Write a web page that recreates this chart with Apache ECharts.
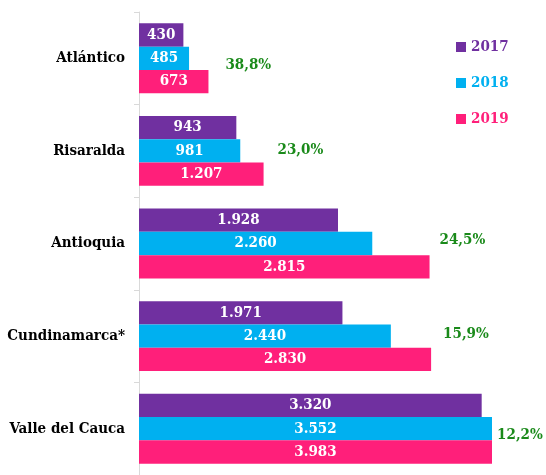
<!DOCTYPE html>
<html><head><meta charset="utf-8">
<script src="https://cdn.jsdelivr.net/npm/echarts@6/dist/echarts.min.js"></script>
<style>html,body{margin:0;padding:0;background:#fff}#c{width:546px;height:475px}</style>
</head><body><div id="c"></div>
<script>
const categories = ['Atlántico', 'Risaralda', 'Antioquia', 'Cundinamarca*', 'Valle del Cauca'];
const years = ['2017', '2018', '2019'];
const v2017 = [430, 943, 1928, 1971, 3320];
const v2018 = [485, 981, 2260, 2440, 3552];
const v2019 = [673, 1207, 2815, 2830, 3983];
const growth = ['38,8%', '23,0%', '24,5%', '15,9%', '12,2%'];

// layout / style
const colors = ['#7030A0', '#00B0F0', '#FF1F7A'];
const growthOffset = [[17, 7], [14, -1], [10, -3], [12, -2], [-53, 6]];
const FONT = '"DejaVu Serif Condensed", "DejaVu Serif", serif';
const xMax = 3420;

function fmt(v) { return String(v).replace(/\B(?=(\d{3})+(?!\d))/g, '.'); }

const chart = echarts.init(document.getElementById('c'), null, { renderer: 'canvas' });
const seriesVals = [v2017, v2018, v2019];
chart.setOption({
  animation: false,
  backgroundColor: '#fff',
  grid: { left: 139, top: 12, width: 353, height: 470, containLabel: false },
  legend: {
    orient: 'vertical', left: 451, top: 34, padding: 5, itemWidth: 10, itemHeight: 10, itemGap: 20,
    icon: 'rect',
    data: years.map((y, i) => ({ name: y, textStyle: { color: colors[i] } })),
    textStyle: { fontFamily: FONT, fontWeight: 'bold', fontSize: 15, lineHeight: 16 }
  },
  xAxis: { type: 'value', min: 0, max: xMax, show: false },
  yAxis: {
    type: 'category', data: categories, inverse: true,
    axisLine: { show: true, lineStyle: { color: '#d9d9d9', width: 1 } },
    axisTick: { show: true, length: 5, lineStyle: { color: '#d9d9d9' } },
    axisLabel: { margin: 14, color: '#000', fontFamily: FONT, fontWeight: 'bold', fontSize: 15 },
    splitLine: { show: false }
  },
  series: years.map((y, i) => ({
    name: y, type: 'bar', data: seriesVals[i], barGap: '0%', barCategoryGap: '24.5%',
    itemStyle: { color: colors[i] },
    label: {
      show: true, position: 'inside', color: '#fff', fontFamily: FONT, fontWeight: 'bold', fontSize: 15,
      formatter: p => fmt(p.value)
    }
  }))
});

const graphics = categories.map((c, i) => {
  const p = chart.convertToPixel({ gridIndex: 0 }, [v2019[i], c]);
  return {
    type: 'text', x: p[0] + growthOffset[i][0], y: p[1] + growthOffset[i][1], z: 100,
    style: { text: growth[i], fill: '#1a8a1a', font: 'bold 15px ' + FONT, align: 'left', verticalAlign: 'middle' }
  };
});
chart.setOption({ graphic: graphics });
</script></body></html>
